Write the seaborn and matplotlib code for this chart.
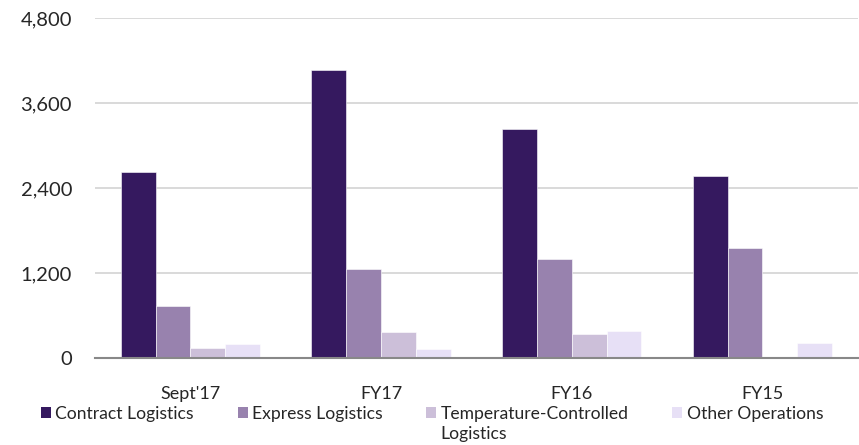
import matplotlib
matplotlib.use("Agg")
import matplotlib.pyplot as plt
import seaborn as sns
import pandas as pd
from matplotlib.patches import Patch
from matplotlib.ticker import FuncFormatter, FixedLocator

periods = ["Sept'17", "FY17", "FY16", "FY15"]
segments = ["Contract Logistics", "Express Logistics",
            "Temperature-Controlled Logistics", "Other Operations"]
contract_logistics = [2626, 4070, 3233, 2574]
express_logistics = [738, 1256, 1402, 1557]
temperature_controlled = [141, 362, 339, 0]
other_operations = [202, 127, 376, 206]
colors = ["#35195F", "#9882AE", "#CCBFD9", "#E7E0F6"]
legend_labels = ["Contract Logistics", "Express Logistics",
                 "Temperature-Controlled", "Other Operations"]
wrapped_line = "Logistics"

rows = []
for seg, vals in zip(segments, [contract_logistics, express_logistics,
                                temperature_controlled, other_operations]):
    for p, v in zip(periods, vals):
        rows.append({"period": p, "segment": seg, "value": v})
df = pd.DataFrame(rows)

sns.set_theme(style="white")
plt.rcParams["font.family"] = ["Lato", "DejaVu Sans"]
text_color = "#262626"

W, H = 859, 445
fig = plt.figure(figsize=(W / 100, H / 100), dpi=100)
ax = fig.add_axes([0.1106, 0.1955, 0.888, 0.764])

sns.barplot(data=df, x="period", y="value", hue="segment",
            order=periods, hue_order=segments, palette=colors,
            width=0.73, dodge=True, saturation=1, ax=ax,
            edgecolor="#FFFFFF", linewidth=0.4, legend=False)

ax.set_xlim(-0.5, 3.5)
ax.set_ylim(0, 4800)
ax.set_yticks([0, 1200, 2400, 3600, 4800])
ax.yaxis.set_major_formatter(FuncFormatter(lambda v, _: f"{int(v):,}"))
ax.grid(axis="y", color="#D9D9D9", linewidth=1.4)
ax.set_axisbelow(True)
ax.set_xlabel("")
ax.set_ylabel("")

for side in ["top", "right", "left"]:
    ax.spines[side].set_visible(False)
ax.spines["bottom"].set_color("#888888")
ax.spines["bottom"].set_linewidth(1.5)

ax.tick_params(axis="y", length=0, pad=16.5, labelsize=14.5, labelcolor=text_color)
ax.tick_params(axis="x", which="major", length=0, pad=20, labelsize=13,
               labelcolor=text_color)
ax.xaxis.set_minor_locator(FixedLocator([-0.5, 0.5, 1.5, 2.5, 3.5]))
ax.tick_params(axis="x", which="minor", length=5, width=1.5, color="#888888")

handles = [Patch(facecolor=c, edgecolor="none") for c in colors]
leg = fig.legend(handles, legend_labels, loc="upper left",
                 bbox_to_anchor=(41 / W, 1 - 405.5 / H), ncol=4, frameon=False,
                 fontsize=12.6, handlelength=0.57, handleheight=0.57,
                 handletextpad=0.25, columnspacing=2.5, borderpad=0,
                 borderaxespad=0, labelcolor=text_color)

# second line of the wrapped legend label, aligned under its first line
fig.canvas.draw()
first = leg.get_texts()[2]
bb = first.get_window_extent()
fig.text(bb.x0 / W, (bb.y0 - 20) / H, wrapped_line, fontsize=12.6,
         color=text_color, ha="left", va="bottom")

fig.savefig("out.png", dpi=100)
